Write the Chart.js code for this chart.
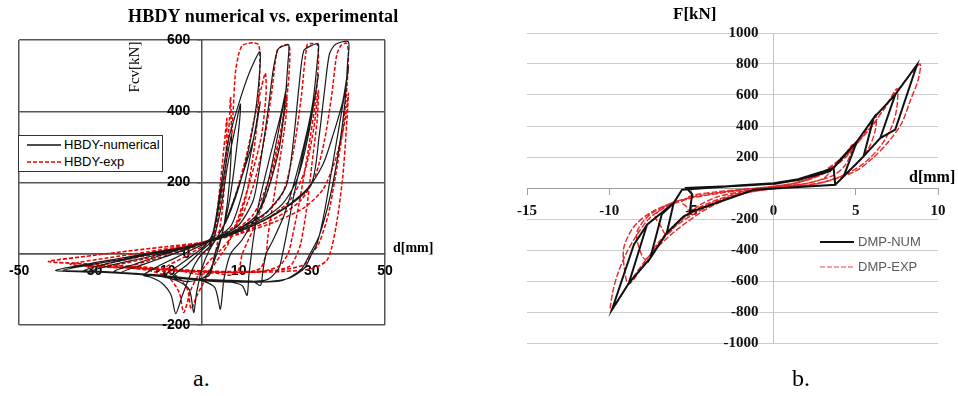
<!DOCTYPE html>
<html><head><meta charset="utf-8">
<script src="https://cdn.jsdelivr.net/npm/chart.js@4.4.1/dist/chart.umd.min.js"></script>
<style>
body{margin:0;background:#fff;width:958px;height:396px;position:relative;overflow:hidden;}
canvas{position:absolute;}
.lbl{position:absolute;white-space:nowrap;line-height:1;color:#000;}
.serif{font-family:"Liberation Serif","DejaVu Serif",serif;}
.sans{font-family:"Liberation Sans",Arial,sans-serif;}
</style></head>
<body>
<canvas id="ca" width="480" height="340" style="left:0;top:0"></canvas>
<canvas id="cb" width="458" height="370" style="left:500px;top:0"></canvas>

<div class="lbl serif" style="left:128px;top:7px;font-size:18px;font-weight:bold;letter-spacing:0.2px;">HBDY numerical vs. experimental</div>
<div class="lbl serif" style="left:103px;top:59px;width:64px;height:16px;text-align:center;font-size:15px;color:#000;transform:rotate(-90deg);">Fcv[kN]</div>
<div class="lbl serif" style="left:393px;top:241px;font-size:14px;font-weight:bold;">d[mm]</div>

<div id="legA" style="position:absolute;left:18px;top:135px;width:143px;height:35px;border:1px solid #333;background:#fff;">
  <svg style="position:absolute;left:8px;top:7px" width="34" height="4"><line x1="0" y1="2" x2="34" y2="2" stroke="#111" stroke-width="1.3"/></svg>
  <div class="lbl sans" style="left:45px;top:2px;font-size:13px;">HBDY-numerical</div>
  <svg style="position:absolute;left:8px;top:24px" width="34" height="4"><line x1="0" y1="2" x2="34" y2="2" stroke="#ee0000" stroke-width="1.5" stroke-dasharray="4,2"/></svg>
  <div class="lbl sans" style="left:45px;top:19px;font-size:13px;">HBDY-exp</div>
</div>

<div class="lbl serif" style="left:673px;top:5px;font-size:17px;font-weight:bold;">F[kN]</div>
<div class="lbl serif" style="left:909px;top:169px;font-size:16px;font-weight:bold;">d[mm]</div>
<svg style="position:absolute;left:820px;top:240px" width="34" height="4"><line x1="0" y1="2" x2="34" y2="2" stroke="#111" stroke-width="2"/></svg>
<div class="lbl sans" style="left:858px;top:235px;font-size:13px;color:#595959;">DMP-NUM</div>
<svg style="position:absolute;left:820px;top:265px" width="34" height="4"><line x1="0" y1="2" x2="34" y2="2" stroke="#f04040" stroke-width="1" stroke-dasharray="5,2"/></svg>
<div class="lbl sans" style="left:858px;top:260px;font-size:13px;color:#595959;">DMP-EXP</div>

<div class="lbl serif" style="left:193px;top:366px;font-size:24px;">a.</div>
<div class="lbl serif" style="left:792px;top:366px;font-size:24px;">b.</div>

<script>
// ---------- Chart a: HBDY ----------
const hbdyXTicks = [-50, -30, -10, 10, 30, 50];
const hbdyYTicks = [-200, 0, 200, 400, 600];
const hbdyNum = [
 [0,0],[2,20],[4,100],[6,220],[8,330],
 [7.5,200],[6,80],[4,0],[2,-50],[0,-70],[-4,-78],[-8,-65],
 [-4,-30],[0,10],[3,40],[5,120],[7,250],[9,350],[10.5,420],
 [9.5,300],[7.5,150],[5,40],[3.5,0],[2,-60],[-2,-72],[-10,-60],
 [-6,-30],[-2,0],[1,25],[3,60],[5,180],[7,310],[10,420],[13,510],[15.8,567],
 [15.5,480],[14,360],[11,220],[7,100],[3,30],[0,0],[-2,-30],[-3.5,-66],[-5.5,-120],[-7.2,-168],[-8.5,-115],[-11,-82],[-14,-66],[-16,-60],
 [-12,-35],[-8,-15],[-4,5],[0,25],[4,45],[8,80],[11,170],[13.5,290],[15.9,426],
 [14.5,340],[11,220],[6,80],[2,10],[0,-40],[-1.5,-110],[-2.3,-165],[-3.5,-100],[-7,-75],[-12,-62],[-18,-55],[-22,-52],
 [-16,-30],[-10,-8],[-5,10],[0,30],[5,50],[10,80],[14,150],[16,260],[18,400],[19.5,520],[20.8,575],[22.5,584],[23.7,586],
 [23.5,540],[22.6,420],[21,290],[17,150],[11,40],[7.8,0],[6,-70],[5,-155],[3.5,-95],[0,-76],[-6,-66],[-14,-58],[-24,-50],
 [-18,-28],[-10,0],[-4,18],[0,30],[5,48],[10,70],[15,110],[18,200],[21,350],[23.2,473],
 [21.5,390],[18.5,270],[15.5,140],[14,40],[13.5,0],[12.8,-60],[12.3,-117],[11,-90],[8,-80],[2,-77],[-6,-68],[-16,-58],[-26,-52],[-30,-48],
 [-24,-30],[-16,-12],[-8,8],[0,30],[6,52],[12,80],[18,120],[23,190],[25,320],[26.5,470],[27.8,570],[30,585],[31.8,589],
 [31.5,540],[30.2,420],[27,270],[22.5,110],[19,30],[17.5,0],[16.6,-50],[16,-89],[14,-78],[8,-75],[0,-72],[-10,-62],[-20,-55],[-32,-47],
 [-26,-28],[-18,-10],[-8,10],[0,30],[8,58],[16,95],[22,140],[26,210],[29,330],[31.8,502],
 [30.5,420],[28,300],[25,160],[23,50],[22,0],[21,-40],[18,-72],[12,-79],[4,-76],[-6,-68],[-18,-56],[-30,-49],[-38,-47],
 [-30,-30],[-20,-12],[-10,8],[0,30],[8,55],[16,90],[24,140],[30,200],[32,330],[33.5,460],[34.8,560],[36.5,588],[40,595],
 [39.8,540],[39,420],[37.5,300],[35,160],[32,50],[29.5,0],[27,-45],[22,-75],[15,-80],[5,-77],[-5,-70],[-15,-60],[-28,-52],[-40,-47],
 [-32,-30],[-22,-12],[-12,6],[0,28],[10,62],[20,110],[28,170],[33,250],[36,340],[38.5,430],[40,525],
 [38.5,420],[36,270],[33.5,120],[31.5,30],[30,0],[28,-40],[24,-68],[18,-78],[10,-80]
];
const hbdyExp = [
 [0,0],[2,15],[3.5,70],[4.8,180],[6,300],[6.8,380],
 [6.5,260],[5.5,120],[4,20],[2.5,-40],[0,-58],[-5,-50],[-10,-40],
 [-5,-10],[0,20],[3,40],[5,140],[6.8,280],[7.5,380],[7.8,440],[8.1,330],[8.5,400],[9.1,507],[10,560],[11,585],[12.3,590],[14,592],[15.5,586],
 [15.8,540],[15.4,420],[14.3,300],[12,160],[8.5,55],[5,10],[2,-20],[-1,-60],[-3,-100],[-5,-165],[-6.2,-110],[-9,-68],[-14,-48],[-20,-38],
 [-14,-18],[-8,0],[-3,15],[0,30],[3,45],[6,80],[9,160],[12,270],[14.5,390],[16.3,470],[17.3,507],
 [17.5,450],[16.2,330],[13,200],[9.5,90],[7,25],[4,-20],[1,-70],[-1.5,-120],[-3,-155],[-4,-100],[-7,-62],[-12,-46],[-18,-38],[-24,-35],
 [-16,-15],[-8,5],[0,30],[5,50],[10,90],[14,190],[17,320],[19,450],[20.5,570],[22,584],[23.7,586],
 [24,560],[23.5,470],[21.5,330],[18,180],[14,70],[11,0],[10,-45],[8,-60],[4,-55],[0,-52],[-8,-48],[-16,-42],[-28,-35],
 [-20,-15],[-10,5],[0,32],[8,60],[14,110],[18,200],[21,320],[22.5,400],[23.2,440],
 [23,390],[21.5,280],[19.5,150],[18,50],[17.5,0],[16,-40],[12,-52],[5,-52],[-5,-48],[-15,-42],[-25,-38],[-32,-34],
 [-24,-18],[-14,2],[-5,20],[0,32],[8,60],[16,100],[22,170],[25,290],[27,430],[28.7,586],[30,590],[31.5,588],
 [31.8,540],[31,430],[29,290],[26.5,140],[24.5,40],[23.5,0],[21,-35],[16,-50],[8,-52],[0,-50],[-10,-45],[-22,-38],[-36,-30],
 [-26,-12],[-15,5],[-5,22],[0,32],[10,62],[18,100],[24,150],[28,230],[30.5,350],[31.8,459],
 [31.5,380],[30,250],[28.5,120],[27,30],[26,0],[24,-35],[18,-50],[8,-52],[-5,-47],[-20,-38],[-32,-28],[-42,-22],
 [-32,-8],[-20,8],[-8,22],[0,32],[10,58],[20,100],[27,150],[31,220],[33.5,320],[35.5,450],[36.8,558],[38,585],[39.5,591],
 [40,560],[39.6,470],[38.5,350],[36.5,220],[34.5,110],[32,30],[30,0],[28,-30],[22,-45],[12,-50],[0,-48],[-12,-40],[-28,-30],[-42,-22],
 [-30,-5],[-18,10],[-6,24],[0,32],[10,55],[20,90],[28,130],[33,180],[36,250],[38.2,330],[39.3,390],[40,450],
 [39.5,360],[38.5,220],[37,100],[35.5,20],[34,-20],[30,-42],[22,-50],[14,-52]
];

// ---------- Chart b: DMP ----------
const dmpXTicks = [-15, -10, -5, 0, 5, 10];
const dmpYTicks = [-1000, -800, -600, -400, -200, 0, 200, 400, 600, 800, 1000];
const dmpNum = [
 [0,25],[1,43],[2.5,80],[3.4,107],[3.65,130],
 [3.75,21],[-1.2,-12],[-4.66,-140],[-5.1,-152],
 [-4.95,-40],[-5.3,0],[-2,15],[0,27],[1.5,52],[3,100],[3.65,130],[4.1,190],[5.07,300],
 [4.26,75],[3.75,21],[-1.2,-12],[-4.66,-140],[-5.47,-183],[-6.5,-290],
 [-6.3,-200],[-6.08,-97],[-5.57,-11],[-2,16],[0,28],[1.5,53],[3,102],[3.65,130],[5.07,300],[6.08,451],
 [5.47,204],[4.26,75],[3.75,21],[-1.2,-12],[-4.66,-140],[-5.47,-183],[-6.5,-290],[-7.5,-452],
 [-6.8,-170],[-6.08,-97],[-5.57,-11],[-2,17],[0,30],[1.5,55],[3,104],[3.65,130],[5.07,300],[6.08,451],[7.4,602],
 [6.49,322],[5.47,204],[4.26,75],[3.75,21],[-1.2,-12],[-4.66,-140],[-5.47,-183],[-6.5,-290],[-7.5,-452],[-8.8,-613],
 [-7.7,-237],[-6.08,-97],[-5.57,-11],[-2,18],[0,31],[1.5,56],[3,106],[3.65,130],[5.07,300],[6.08,451],[7.4,602],[8.72,795],
 [7.4,377],[6.49,322],[5.47,204],[4.26,75],[3.75,21],[-1.2,-12],[-4.66,-140],[-5.47,-183],[-6.5,-290],[-7.5,-452],[-8.8,-613],[-9.83,-785],
 [-8.5,-366],[-7.7,-237],[-6.08,-97],[-5.57,-11],[-2,18],[0,30]
];
const dmpExp = [
 [0,5],[1,25],[2,55],[3,100],[3.6,140],[3.4,100],[3,60],[2,30],[0,2],[-2,-25],[-3.5,-60],[-4.5,-110],[-5.1,-155],
 [-5.3,-120],[-5.6,-90],[-5,-50],[-3.5,-25],[-1.5,-5],[0,8],
 [1.5,35],[3,90],[4,170],[4.8,280],[4.7,220],[4.3,140],[3.6,80],[2,30],[0,0],[-2,-30],[-4,-100],[-5.5,-190],[-6.5,-300],
 [-6.9,-240],[-7.2,-180],[-6.5,-110],[-5,-60],[-3,-25],[-1,0],[0,10],
 [1.5,35],[3,95],[4.3,190],[5.3,320],[6.2,460],[6.2,380],[5.8,260],[5,150],[4,70],[2.5,25],[0,-2],[-2,-35],[-4,-110],[-5.8,-220],[-7,-350],[-7.8,-460],
 [-8.2,-380],[-8.3,-280],[-7.5,-170],[-6,-90],[-4,-45],[-2,-15],[0,10],
 [1.5,35],[3,100],[4.5,220],[5.8,380],[6.8,520],[7.5,640],[7.5,520],[7.2,400],[6.5,270],[5.5,160],[4.2,80],[2.5,25],[0,-3],[-2,-40],[-4,-120],[-6,-250],[-7.5,-430],[-8.8,-620],
 [-9.1,-500],[-9.1,-380],[-8.5,-250],[-7.5,-160],[-6,-90],[-4,-45],[-2,-15],[0,12],
 [1.5,38],[3,105],[4.5,230],[6,400],[7,560],[8,690],[8.9,800],[8.8,700],[8.3,560],[7.8,420],[7,300],[6,190],[5,110],[3.5,50],[1.5,10],[0,-5],
 [-2,-40],[-4,-130],[-6,-280],[-7.5,-430],[-8.7,-600],[-9.9,-790],
 [-9.8,-680],[-9.5,-560],[-9,-430],[-8.3,-300],[-7.5,-190],[-6.5,-120],[-5,-65],[-3,-30],[-1,-5],[0,5]
];

const toXY = arr => arr.map(p => ({x: p[0], y: p[1]}));
const setTicks = list => (scale => { scale.ticks = list.map(v => ({value: v})); });

const fontA = {family: '"Liberation Sans", Arial, sans-serif', weight: 'bold', size: 14};
new Chart(document.getElementById('ca'), {
  type: 'scatter',
  data: {datasets: [
    {label: 'HBDY-numerical', data: toXY(hbdyNum), showLine: true, borderColor: '#1a1a1a', borderWidth: 1.2, pointRadius: 0, tension: 0.25},
    {label: 'HBDY-exp', data: toXY(hbdyExp), showLine: true, borderColor: '#ee0000', borderWidth: 1.5, borderDash: [4, 2], pointRadius: 0, tension: 0.25}
  ]},
  options: {
    responsive: false, animation: false, events: [],
    layout: {padding: {left: 18, top: 40, right: 95, bottom: 15}},
    plugins: {legend: {display: false}, title: {display: false}, tooltip: {enabled: false}},
    scales: {
      x: {type: 'linear', min: -50, max: 50, position: {y: 0}, afterBuildTicks: setTicks(hbdyXTicks),
          grid: {color: c => (c.tick && (c.tick.value === -50 || c.tick.value === 50)) ? '#555' : 'rgba(0,0,0,0)', lineWidth: 1.5, drawTicks: false},
          border: {color: '#555', width: 1.5},
          ticks: {font: fontA, color: '#000', padding: 9, maxRotation: 0, autoSkip: false}},
      y: {type: 'linear', min: -200, max: 600, position: {x: 0}, afterBuildTicks: setTicks(hbdyYTicks),
          grid: {color: '#555', lineWidth: 1.5, tickLength: 4},
          border: {color: '#555', width: 1.5},
          ticks: {font: fontA, color: '#000', autoSkip: false, callback: v => String(v) + '   '}}
    }
  }
});

const fontB = {family: '"Liberation Serif", "DejaVu Serif", serif', weight: 'bold', size: 15};
new Chart(document.getElementById('cb'), {
  type: 'scatter',
  data: {datasets: [
    {label: 'DMP-NUM', data: toXY(dmpNum), showLine: true, borderColor: '#111', borderWidth: 2, pointRadius: 0, tension: 0},
    {label: 'DMP-EXP', data: toXY(dmpExp), showLine: true, borderColor: 'rgba(230,15,15,0.9)', borderWidth: 1.4, borderDash: [6, 2], pointRadius: 0, tension: 0.3}
  ]},
  options: {
    responsive: false, animation: false, events: [],
    layout: {padding: {left: 27, top: 33, right: 20, bottom: 27}},
    plugins: {legend: {display: false}, title: {display: false}, tooltip: {enabled: false}},
    scales: {
      x: {type: 'linear', min: -15, max: 10, position: {y: 0}, afterBuildTicks: setTicks(dmpXTicks),
          grid: {drawOnChartArea: false, color: '#a0a0a0', tickLength: 6},
          border: {color: '#a0a0a0', width: 1},
          ticks: {font: fontB, color: '#111', padding: 8, maxRotation: 0, autoSkip: false}},
      y: {type: 'linear', min: -1000, max: 1000, position: {x: 0}, afterBuildTicks: setTicks(dmpYTicks),
          grid: {color: '#cdcdcd', lineWidth: 1, drawTicks: false},
          border: {color: '#c4c4c4', width: 1},
          ticks: {font: fontB, color: '#111', autoSkip: false, callback: v => v === 0 ? '' : String(v) + '    '}}
    }
  }
});
</script>
</body></html>
